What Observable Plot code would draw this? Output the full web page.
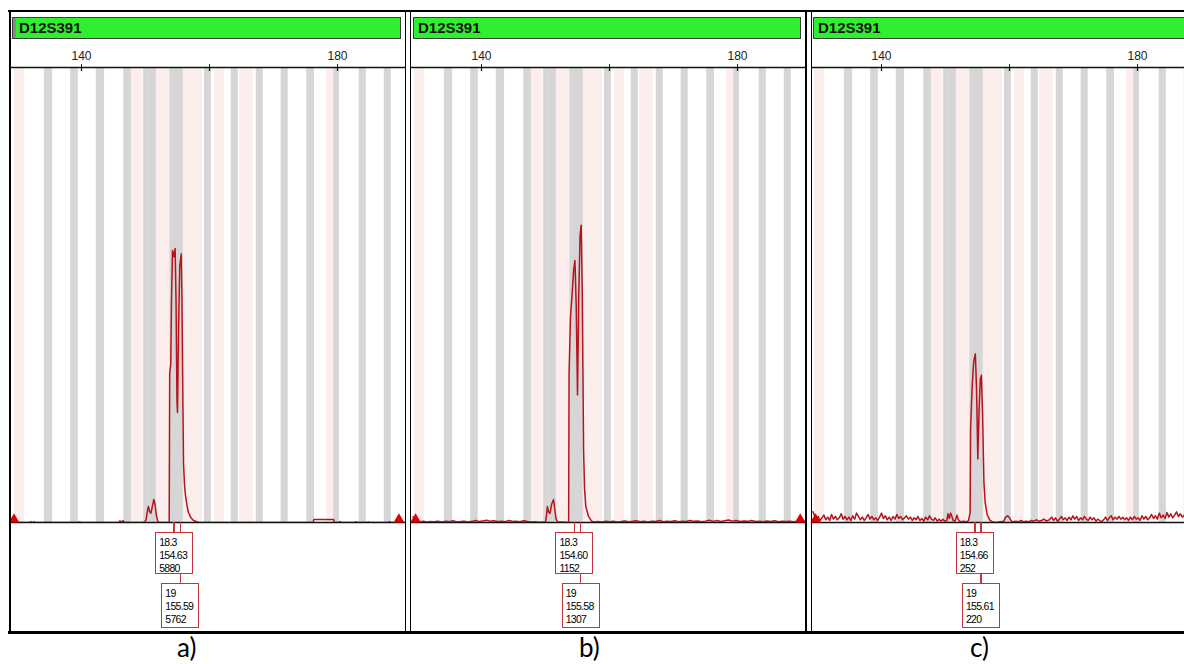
<!DOCTYPE html>
<html><head><meta charset="utf-8">
<script src="https://cdn.jsdelivr.net/npm/d3@7"></script>
<script src="https://cdn.jsdelivr.net/npm/@observablehq/plot@0.6"></script>
<style>
html,body{margin:0;padding:0;background:#fff}
#root{position:relative;width:1184px;height:664px;overflow:hidden;background:#fff;font-family:Arial,"Liberation Sans",sans-serif}
.ln{position:absolute;background:#000}
.green{position:absolute;top:17px;height:22px;background:#2ef02e;border:1px solid #3c3c3c;box-sizing:border-box;font:bold 15px Arial,"Liberation Sans",sans-serif;color:#111;line-height:20px;padding-left:4px;white-space:nowrap;overflow:hidden}
.gtab{position:absolute;left:0;top:0;width:3px;height:100%;background:#8a8a8a}
.box{position:absolute;border:1.5px solid #c8323a;box-sizing:border-box;background:#fff;font:10.5px Arial,"Liberation Sans",sans-serif;letter-spacing:-0.7px;line-height:13px;padding:3px 0 0 3px;color:#000;white-space:nowrap}
.conn{position:absolute;width:1.5px;background:#c8323a}
.cap{position:absolute;top:631px;font:26px Lato,"Open Sans",sans-serif;color:#000}
.pl{position:absolute;top:40px}
</style>
</head><body>
<div id="root"></div>
<script>
// ---------- data ----------
const markerName = "D12S391";
const xTicks = [140, 160, 180];
const xTickLabels = [140, 180];
const panelNames = ["a)", "b)", "c)"];
const alleleNames = ["18.3", "19"];

const sizesA = [154.63, 155.59];
const heightsA = [5880, 5762];
const sizesB = [154.60, 155.58];
const heightsB = [1152, 1307];
const sizesC = [154.66, 155.61];
const heightsC = [252, 220];

// gray (ladder) bins, bp
const grayBins = [[134.2,135.5],[138.3,139.5],[142.3,143.6],[146.6,147.8],[149.7,150.6],[150.6,151.7],[153.8,155.9],[159.2,160.3],[163.4,164.5],[167.3,168.4],[171.2,172.3],[175.2,176.4],[179.4,180.3],[183.4,184.5],[187.3,188.4]];
// pink (virtual) bins, bp
const pinkBins = [[129.5,131.1],[147.8,149.6],[151.7,153.8],[155.9,158.9],[160.8,162.3],[164.7,166.9],[178.3,179.4]];

// traces [bp, RFU]
const traceA = [[129.3,0],[131.9,0],[132.1,20],[132.3,0],[132.6,15],[132.8,0],[139.5,0],[139.7,15],[139.9,0],[145.8,0],[146.0,35],[146.2,10],[146.5,40],[146.7,0],
[149.8,0],[150.1,60],[150.3,250],[150.45,343],[150.65,230],[150.85,200],[151.05,330],[151.3,493],[151.5,380],[151.7,150],[151.9,30],[152.1,0],
[153.70,0],[153.78,3200],[153.95,3400],[154.06,4764],[154.22,5837],[154.45,5700],[154.63,5880],[154.77,4764],[154.92,2600],[155.0,2361],[155.16,4120],[155.35,5500],[155.59,5762],[155.70,4764],[155.85,2500],[155.94,1266],[156.1,800],[156.25,579],[156.5,350],[156.72,215],[157.1,100],[157.5,43],[158.3,0],
[176.2,0],[176.3,65],[179.4,65],[179.5,0],[180.2,0],[180.4,20],[180.6,0],[182.7,0],[182.9,18],[183.1,0],[184.6,0],[184.8,15],[185,0],[187.9,0],[188.1,18],[188.3,0],[190.7,0]];

const traceB = [[129.3,25],[129.6,12],[130.0,6],[130.4,3],[130.9,5],[131.5,2],[132.0,4],[132.6,3],[133.2,6],[133.8,2],[134.4,5],[135.0,3],[135.5,8],[136.1,3],[136.7,4],[137.3,6],[137.9,2],[138.5,5],[139.1,9],[139.6,4],[140.2,7],[140.8,10],[141.3,6],[141.9,8],[142.5,4],[143.1,5],[143.7,3],[144.3,9],[144.9,4],[145.4,6],[146.0,3],[146.6,8],[147.2,4],[147.8,2],[148.4,3],[149.0,1],[149.6,2],
[150.0,2],[150.15,30],[150.3,70],[150.5,45],[150.7,40],[150.95,80],[151.25,101],[151.45,60],[151.65,15],[151.9,3],[152.4,2],[153.0,1],[153.5,0],
[153.62,0],[153.68,650],[153.9,900],[154.15,1000],[154.4,1110],[154.6,1152],[154.8,950],[155.0,560],[155.2,1000],[155.4,1260],[155.58,1307],[155.75,1000],[155.95,320],[156.1,150],[156.3,70],[156.7,28],[157.2,6],[157.6,2],
[158.2,4],[158.8,2],[159.4,5],[160.0,3],[160.6,6],[161.2,2],[161.8,4],[162.4,7],[163.0,3],[163.6,5],[164.2,8],[164.8,3],[165.4,5],[166.0,2],[166.6,6],[167.2,4],[167.8,9],[168.4,3],[169.0,5],[169.6,4],[170.2,8],[170.8,3],[171.4,6],[172.0,4],[172.6,9],[173.2,5],[173.8,7],[174.4,3],[175.0,6],[175.6,10],[176.2,5],[176.8,9],[177.4,4],[178.0,8],[178.6,11],[179.2,6],[179.8,9],[180.4,4],[181.0,7],[181.6,5],[182.2,9],[182.8,4],[183.4,6],[184.0,3],[184.6,7],[185.2,4],[185.8,8],[186.4,3],[187.0,6],[187.6,4],[188.2,5],[188.8,3],[189.4,6],[189.8,22],[190.0,8],[190.6,4]];

const traceC = [[129.3,16],[129.5,11],[129.8,4],[130.1,9],[130.4,3],[130.7,7],[131.0,11],[131.3,4],[131.6,8],[131.9,3],[132.2,12],[132.5,5],[132.8,9],[133.1,4],[133.4,7],[133.7,13],[134.0,5],[134.3,9],[134.6,4],[134.9,8],[135.2,3],[135.5,10],[135.8,5],[136.1,14],[136.4,9],[136.7,4],[137.0,8],[137.3,3],[137.6,7],[137.9,12],[138.2,5],[138.5,9],[138.8,4],[139.1,7],[139.4,3],[139.7,8],[140.0,14],[140.3,6],[140.6,10],[140.9,4],[141.2,8],[141.5,3],[141.8,9],[142.1,5],[142.4,12],[142.7,6],[143.0,9],[143.3,4],[143.6,7],[143.9,10],[144.2,5],[144.5,8],[144.8,3],[145.1,7],[145.4,4],[145.7,9],[146.0,3],[146.3,6],[146.6,2],[146.9,8],[147.2,4],[147.5,10],[147.8,5],[148.1,3],[148.4,7],[148.7,2],[149.0,5],[149.3,2],[149.6,5],[149.9,2],[150.2,3],
[150.4,13],[150.6,6],[150.8,14],[151.0,9],[151.2,3],[151.5,2],[151.8,11],[152.0,4],[152.3,1],[152.8,2],[153.3,1],
[153.6,3],[153.85,15],[153.92,140],[154.15,200],[154.4,240],[154.66,252],[154.85,200],[155.05,95],[155.25,170],[155.45,215],[155.61,220],[155.8,160],[156.0,60],[156.2,30],[156.5,12],[156.9,4],[157.3,1],[157.9,0],[158.5,1],
[159.1,2],[159.4,8],[159.7,10],[160.0,7],[160.3,2],[160.6,1],[161.0,2],[161.4,1],[161.8,3],[162.2,1],[162.6,2],[163.0,1],[163.4,3],[163.8,2],[164.2,4],[164.6,2],[165.0,3],[165.4,5],[165.8,2],[166.2,4],[166.6,8],[166.9,3],[167.2,7],[167.5,2],[167.8,5],[168.1,9],[168.4,4],[168.7,7],[169.0,3],[169.3,8],[169.6,4],[169.9,10],[170.2,5],[170.5,9],[170.8,3],[171.1,7],[171.4,4],[171.7,9],[172.0,5],[172.3,3],[172.6,8],[172.9,4],[173.2,7],[173.5,2],[173.8,5],[174.1,3],[174.4,1],[174.7,4],[175.0,8],[175.3,3],[175.6,7],[175.9,10],[176.2,4],[176.5,8],[176.8,5],[177.1,9],[177.4,5],[177.7,8],[178.0,4],[178.3,7],[178.6,3],[178.9,8],[179.2,4],[179.5,9],[179.8,5],[180.1,7],[180.4,3],[180.7,10],[181.0,5],[181.3,9],[181.6,4],[181.9,7],[182.2,12],[182.5,6],[182.8,10],[183.1,5],[183.4,14],[183.7,7],[184.0,11],[184.3,6],[184.6,15],[184.9,8],[185.2,13],[185.5,7],[185.8,11],[186.1,16],[186.4,9],[186.7,13],[187.0,8],[187.4,12]];

const markersA = [129.45, 189.6];
const markersB = [129.7, 189.8];
const markersC = [129.7];

const yMaxA = 9760, yMaxB = 2000, yMaxC = 680;

// ---------- layout ----------
const root = document.getElementById("root");
function div(cls, css, html) {
  const d = document.createElement("div");
  d.className = cls;
  Object.assign(d.style, css);
  if (html != null) d.innerHTML = html;
  root.appendChild(d);
  return d;
}

const panels = [
  {left: 10.5, width: 394, greenLeft: 12, greenWidth: 389, tab: true, yMax: yMaxA, trace: traceA, markers: markersA, sizes: sizesA, heights: heightsA, cap: 177},
  {left: 411, width: 394, greenLeft: 413, greenWidth: 388, tab: false, yMax: yMaxB, trace: traceB, markers: markersB, sizes: sizesB, heights: heightsB, cap: 579},
  {left: 811, width: 373, greenLeft: 813, greenWidth: 380, tab: false, yMax: yMaxC, trace: traceC, markers: markersC, sizes: sizesC, heights: heightsC, cap: 970}
];

const pxPerBp = 6.4, anchorBp = 140, anchorPx = 70;
const plotTop = 40, plotH = 485, mTop = 27, mBot = 3;
const red = "#b8121b";

panels.forEach((p, i) => {
  const domain = [anchorBp - anchorPx / pxPerBp, anchorBp + (p.width - anchorPx) / pxPerBp];
  const plot = Plot.plot({
    width: p.width, height: plotH,
    marginTop: mTop, marginBottom: mBot, marginLeft: 0, marginRight: 0,
    style: {background: "transparent", fontSize: "12px", fontFamily: "Arial, 'Liberation Sans', sans-serif", color: "#222", overflow: "visible"},
    x: {domain, axis: "top", ticks: xTicks, tickSize: 4, tickPadding: 4, tickFormat: d => xTickLabels.includes(d) ? String(d) : "", label: null},
    y: {domain: [0, p.yMax], axis: null},
    marks: [
      Plot.rect(pinkBins, {x1: d => d[0], x2: d => d[1], fill: "#fdeeee"}),
      Plot.rect(grayBins, {x1: d => d[0], x2: d => d[1], fill: "#d6d6d6"}),
      Plot.ruleY([p.yMax], {stroke: "#111", strokeWidth: 1.5}),
      Plot.ruleX(xTicks, {x: d => d, insetBottom: plotH - mTop - mBot - 4, stroke: "#111", strokeWidth: 1.3}),
      Plot.ruleY([0], {stroke: "#111", strokeWidth: 1.5}),
      Plot.line(p.trace, {x: d => d[0], y: d => d[1], stroke: red, strokeWidth: 1.5, clip: true}),
      Plot.dot(p.markers, {x: d => d, y: () => 0, symbol: "triangle", fill: "#e00000", stroke: "none", r: 4, dy: -3})
    ]
  });
  const wrap = div("pl", {left: p.left + "px", width: p.width + "px", height: plotH + "px"});
  wrap.appendChild(plot);

  // header bar
  const g = div("green", {left: p.greenLeft + "px", width: p.greenWidth + "px"}, markerName);
  if (p.tab) { const t = document.createElement("div"); t.className = "gtab"; g.prepend(t); g.style.paddingLeft = "6px"; }

  // allele label boxes, positioned by the plot's x scale
  const sx = plot.scale("x");
  const base = plotTop + plotH - mBot;
  const xs = p.sizes.map(s => p.left + sx.apply(s));
  const bw = 38;
  const b1Top = base + 10, b1H = 42, b2Top = b1Top + b1H + 9, b2H = 45;
  xs.forEach(x => div("conn", {left: (x - 0.75) + "px", top: base + "px", height: (b1Top - base) + "px"}));
  div("conn", {left: (xs[1] - 0.75) + "px", top: (b1Top + b1H) + "px", height: (b2Top - b1Top - b1H) + "px"});
  div("box", {left: (xs[0] - bw / 2) + "px", top: b1Top + "px", width: bw + "px", height: b1H + "px"},
      `${alleleNames[0]}<br>${p.sizes[0].toFixed(2)}<br>${p.heights[0]}`);
  div("box", {left: (xs[1] - bw / 2) + "px", top: b2Top + "px", width: bw + "px", height: b2H + "px"},
      `${alleleNames[1]}<br>${p.sizes[1].toFixed(2)}<br>${p.heights[1]}`);

  div("cap", {left: p.cap + "px"}, panelNames[i]);
});

// frame lines
div("ln", {left: "8px", top: "9.5px", width: "1176px", height: "2.5px"});
div("ln", {left: "8px", top: "630.5px", width: "1176px", height: "3px"});
div("ln", {left: "8.5px", top: "10px", width: "2px", height: "622px"});
div("ln", {left: "404.5px", top: "10px", width: "1.5px", height: "622px"});
div("ln", {left: "409.5px", top: "10px", width: "1.5px", height: "622px"});
div("ln", {left: "805px", top: "10px", width: "1.5px", height: "622px"});
div("ln", {left: "810.5px", top: "10px", width: "1.5px", height: "622px"});
</script>
</body></html>
